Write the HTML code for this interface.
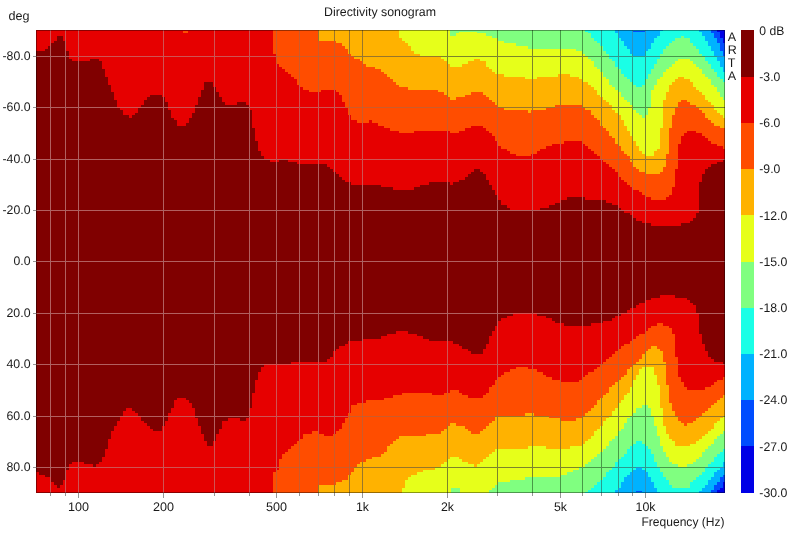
<!DOCTYPE html>
<html><head><meta charset="utf-8"><title>Directivity sonogram</title>
<style>html,body{margin:0;padding:0;background:#fff}svg{display:block}</style></head>
<body><svg width="800" height="539" viewBox="0 0 800 539" shape-rendering="crispEdges" text-rendering="geometricPrecision">
<rect width="800" height="539" fill="#fff"/>
<rect x="36.0" y="30.0" width="689.0" height="463.0" fill="#800000"/>
<path d="M36.0 30.0V51.1H39.0V51.1H42.0V51.1H45.0V48.5H48.0V46.0H51.0V43.4H54.0V40.8H57.0V35.7H60.0V35.7H63.0V40.8H66.0V51.1H69.0V58.8H72.0V61.4H75.0V61.4H78.0V61.4H81.0V61.4H84.0V61.4H87.0V61.4H90.0V58.8H93.0V58.8H96.0V58.8H99.0V61.4H102.0V69.1H105.0V76.8H108.0V84.5H111.0V92.2H114.0V99.9H117.0V107.6H120.0V110.1H123.0V115.3H126.0V115.3H129.0V117.8H132.0V115.3H135.0V112.7H138.0V107.6H141.0V105.0H144.0V99.9H147.0V97.3H150.0V94.7H153.0V94.7H156.0V94.7H159.0V94.7H162.0V97.3H165.0V102.4H168.0V110.1H171.0V117.8H174.0V120.4H177.0V125.5H180.0V125.5H183.0V125.5H186.0V123.0H189.0V117.8H192.0V112.7H195.0V105.0H198.0V97.3H201.0V89.6H204.0V81.9H207.0V81.9H210.0V81.9H213.0V87.0H216.0V92.2H219.0V97.3H222.0V102.4H225.0V105.0H228.0V105.0H231.0V105.0H234.0V105.0H237.0V102.4H240.0V102.4H243.0V102.4H246.0V105.0H249.0V110.1H252.0V128.1H255.0V141.0H258.0V151.2H261.0V156.4H264.0V158.9H267.0V158.9H270.0V161.5H273.0V161.5H276.0V161.5H279.0V158.9H282.0V158.9H285.0V158.9H288.0V161.5H291.0V161.5H294.0V161.5H297.0V164.1H300.0V164.1H303.0V164.1H306.0V164.1H309.0V164.1H312.0V164.1H315.0V164.1H318.0V164.1H321.0V164.1H324.0V164.1H327.0V166.6H330.0V169.2H333.0V171.8H336.0V174.3H339.0V176.9H342.0V179.5H345.0V182.0H348.0V182.0H351.0V184.6H354.0V184.6H357.0V184.6H360.0V184.6H363.0V184.6H366.0V184.6H369.0V184.6H372.0V184.6H375.0V184.6H378.0V184.6H381.0V187.2H384.0V187.2H387.0V187.2H390.0V187.2H393.0V189.7H396.0V189.7H399.0V189.7H402.0V189.7H405.0V189.7H408.0V189.7H411.0V189.7H414.0V187.2H417.0V187.2H420.0V184.6H423.0V184.6H426.0V184.6H429.0V182.0H432.0V182.0H435.0V182.0H438.0V182.0H441.0V182.0H444.0V182.0H447.0V182.0H450.0V184.6H453.0V182.0H456.0V182.0H459.0V179.5H462.0V179.5H465.0V176.9H468.0V174.3H471.0V171.8H474.0V169.2H477.0V169.2H480.0V171.8H483.0V174.3H486.0V179.5H489.0V184.6H492.0V189.7H495.0V194.9H498.0V200.0H501.0V205.1H504.0V205.1H507.0V207.7H510.0V210.3H513.0V210.3H516.0V210.3H519.0V210.3H522.0V210.3H525.0V210.3H528.0V210.3H531.0V210.3H534.0V210.3H537.0V210.3H540.0V207.7H543.0V207.7H546.0V207.7H549.0V205.1H552.0V205.1H555.0V202.6H558.0V202.6H561.0V200.0H564.0V200.0H567.0V197.4H570.0V197.4H573.0V197.4H576.0V197.4H579.0V197.4H582.0V197.4H585.0V200.0H588.0V200.0H591.0V200.0H594.0V200.0H597.0V200.0H600.0V200.0H603.0V200.0H606.0V202.6H609.0V202.6H612.0V205.1H615.0V205.1H618.0V207.7H621.0V210.3H624.0V212.8H627.0V212.8H630.0V215.4H633.0V218.0H636.0V220.5H639.0V220.5H642.0V223.1H645.0V223.1H648.0V223.1H651.0V225.7H654.0V225.7H657.0V225.7H660.0V225.7H663.0V225.7H666.0V225.7H669.0V225.7H672.0V225.7H675.0V225.7H678.0V225.7H681.0V223.1H684.0V223.1H687.0V223.1H690.0V220.5H693.0V218.0H696.0V212.8H699.0V182.0H702.0V174.3H705.0V169.2H708.0V166.6H711.0V164.1H714.0V164.1H717.0V161.5H720.0V161.5H723.0V158.9H725.0V30.0Z" fill="#e60000"/>
<path d="M273.0 30.0V53.7H276.0V63.9H279.0V66.5H282.0V69.1H285.0V71.6H288.0V74.2H291.0V76.8H294.0V79.3H297.0V84.5H300.0V87.0H303.0V89.6H306.0V89.6H309.0V92.2H312.0V92.2H315.0V92.2H318.0V92.2H321.0V89.6H324.0V89.6H327.0V89.6H330.0V89.6H333.0V89.6H336.0V92.2H339.0V94.7H342.0V102.4H345.0V107.6H348.0V115.3H351.0V120.4H354.0V120.4H357.0V123.0H360.0V123.0H363.0V123.0H366.0V123.0H369.0V120.4H372.0V123.0H375.0V123.0H378.0V125.5H381.0V125.5H384.0V128.1H387.0V128.1H390.0V130.7H393.0V130.7H396.0V130.7H399.0V133.2H402.0V133.2H405.0V133.2H408.0V133.2H411.0V133.2H414.0V130.7H417.0V130.7H420.0V130.7H423.0V130.7H426.0V130.7H429.0V130.7H432.0V130.7H435.0V130.7H438.0V130.7H441.0V130.7H444.0V130.7H447.0V130.7H450.0V133.2H453.0V133.2H456.0V133.2H459.0V130.7H462.0V130.7H465.0V128.1H468.0V128.1H471.0V125.5H474.0V125.5H477.0V125.5H480.0V125.5H483.0V128.1H486.0V130.7H489.0V133.2H492.0V135.8H495.0V141.0H498.0V146.1H501.0V148.7H504.0V148.7H507.0V151.2H510.0V153.8H513.0V153.8H516.0V156.4H519.0V156.4H522.0V156.4H525.0V156.4H528.0V156.4H531.0V153.8H534.0V153.8H537.0V151.2H540.0V148.7H543.0V148.7H546.0V146.1H549.0V146.1H552.0V143.5H555.0V143.5H558.0V143.5H561.0V143.5H564.0V141.0H567.0V141.0H570.0V141.0H573.0V141.0H576.0V141.0H579.0V141.0H582.0V143.5H585.0V146.1H588.0V148.7H591.0V151.2H594.0V153.8H597.0V156.4H600.0V158.9H603.0V161.5H606.0V164.1H609.0V166.6H612.0V169.2H615.0V171.8H618.0V176.9H621.0V179.5H624.0V182.0H627.0V184.6H630.0V187.2H633.0V189.7H636.0V189.7H639.0V192.3H642.0V194.9H645.0V197.4H648.0V197.4H651.0V200.0H654.0V200.0H657.0V200.0H660.0V200.0H663.0V200.0H666.0V197.4H669.0V194.9H672.0V187.2H675.0V169.2H678.0V143.5H681.0V135.8H684.0V133.2H687.0V130.7H690.0V130.7H693.0V130.7H696.0V133.2H699.0V133.2H702.0V135.8H705.0V138.4H708.0V141.0H711.0V143.5H714.0V143.5H717.0V146.1H720.0V146.1H723.0V148.7H725.0V30.0Z" fill="#ff4d00"/>
<path d="M318.0 30.0V40.8H321.0V40.8H324.0V40.8H327.0V40.8H330.0V40.8H333.0V40.8H336.0V43.4H339.0V43.4H342.0V46.0H345.0V48.5H348.0V53.7H351.0V56.2H354.0V58.8H357.0V58.8H360.0V61.4H363.0V63.9H366.0V66.5H369.0V66.5H372.0V66.5H375.0V69.1H378.0V69.1H381.0V71.6H384.0V74.2H387.0V76.8H390.0V79.3H393.0V81.9H396.0V84.5H399.0V87.0H402.0V87.0H405.0V87.0H408.0V89.6H411.0V89.6H414.0V89.6H417.0V89.6H420.0V89.6H423.0V89.6H426.0V89.6H429.0V89.6H432.0V89.6H435.0V89.6H438.0V92.2H441.0V92.2H444.0V94.7H447.0V97.3H450.0V99.9H453.0V99.9H456.0V97.3H459.0V97.3H462.0V97.3H465.0V94.7H468.0V94.7H471.0V92.2H474.0V92.2H477.0V92.2H480.0V92.2H483.0V94.7H486.0V97.3H489.0V99.9H492.0V102.4H495.0V105.0H498.0V107.6H501.0V107.6H504.0V110.1H507.0V110.1H510.0V110.1H513.0V110.1H516.0V110.1H519.0V110.1H522.0V110.1H525.0V110.1H528.0V112.7H531.0V110.1H534.0V110.1H537.0V110.1H540.0V110.1H543.0V110.1H546.0V107.6H549.0V107.6H552.0V107.6H555.0V105.0H558.0V105.0H561.0V105.0H564.0V105.0H567.0V105.0H570.0V105.0H573.0V105.0H576.0V105.0H579.0V105.0H582.0V107.6H585.0V110.1H588.0V110.1H591.0V115.3H594.0V117.8H597.0V120.4H600.0V125.5H603.0V128.1H606.0V130.7H609.0V135.8H612.0V138.4H615.0V143.5H618.0V146.1H621.0V151.2H624.0V153.8H627.0V156.4H630.0V161.5H633.0V166.6H636.0V169.2H639.0V171.8H642.0V171.8H645.0V174.3H648.0V174.3H651.0V174.3H654.0V174.3H657.0V174.3H660.0V171.8H663.0V166.6H666.0V153.8H669.0V128.1H672.0V115.3H675.0V107.6H678.0V102.4H681.0V99.9H684.0V99.9H687.0V102.4H690.0V105.0H693.0V105.0H696.0V107.6H699.0V110.1H702.0V112.7H705.0V117.8H708.0V120.4H711.0V123.0H714.0V125.5H717.0V125.5H720.0V128.1H723.0V128.1H725.0V30.0Z" fill="#ffb200"/>
<path d="M399.0 30.0V38.3H402.0V40.8H405.0V43.4H408.0V46.0H411.0V51.1H414.0V53.7H417.0V53.7H420.0V56.2H423.0V56.2H426.0V56.2H429.0V56.2H432.0V56.2H435.0V56.2H438.0V56.2H441.0V58.8H444.0V61.4H447.0V63.9H450.0V66.5H453.0V66.5H456.0V66.5H459.0V66.5H462.0V63.9H465.0V63.9H468.0V61.4H471.0V61.4H474.0V58.8H477.0V58.8H480.0V61.4H483.0V61.4H486.0V66.5H489.0V69.1H492.0V71.6H495.0V74.2H498.0V74.2H501.0V74.2H504.0V76.8H507.0V76.8H510.0V76.8H513.0V76.8H516.0V76.8H519.0V76.8H522.0V76.8H525.0V79.3H528.0V79.3H531.0V79.3H534.0V79.3H537.0V76.8H540.0V76.8H543.0V76.8H546.0V76.8H549.0V76.8H552.0V76.8H555.0V76.8H558.0V74.2H561.0V74.2H564.0V74.2H567.0V74.2H570.0V76.8H573.0V76.8H576.0V76.8H579.0V79.3H582.0V81.9H585.0V81.9H588.0V84.5H591.0V87.0H594.0V89.6H597.0V94.7H600.0V97.3H603.0V99.9H606.0V102.4H609.0V105.0H612.0V110.1H615.0V112.7H618.0V115.3H621.0V120.4H624.0V125.5H627.0V130.7H630.0V135.8H633.0V141.0H636.0V146.1H639.0V151.2H642.0V153.8H645.0V156.4H648.0V156.4H651.0V156.4H654.0V151.2H657.0V148.7H660.0V128.1H663.0V99.9H666.0V92.2H669.0V84.5H672.0V81.9H675.0V79.3H678.0V76.8H681.0V76.8H684.0V79.3H687.0V79.3H690.0V81.9H693.0V87.0H696.0V89.6H699.0V92.2H702.0V94.7H705.0V99.9H708.0V102.4H711.0V105.0H714.0V110.1H717.0V112.7H720.0V115.3H723.0V117.8H725.0V30.0Z" fill="#e6ff1a"/>
<path d="M450.0 30.0V35.7H453.0V35.7H456.0V33.1H459.0V32.0H462.0V32.0H465.0V32.0H468.0V32.0H471.0V32.0H474.0V32.0H477.0V33.0H480.0V33.0H483.0V33.1H486.0V35.7H489.0V35.7H492.0V38.3H495.0V38.3H498.0V40.8H501.0V40.8H504.0V43.4H507.0V43.4H510.0V43.4H513.0V43.4H516.0V46.0H519.0V46.0H522.0V46.0H525.0V46.0H528.0V48.5H531.0V48.5H534.0V48.5H537.0V48.5H540.0V48.5H543.0V48.5H546.0V48.5H549.0V48.5H552.0V48.5H555.0V48.5H558.0V48.5H561.0V48.5H564.0V48.5H567.0V48.5H570.0V48.5H573.0V48.5H576.0V51.1H579.0V51.1H582.0V53.7H585.0V56.2H588.0V58.8H591.0V61.4H594.0V66.5H597.0V69.1H600.0V71.6H603.0V76.8H606.0V79.3H609.0V84.5H612.0V87.0H615.0V89.6H618.0V92.2H621.0V97.3H624.0V99.9H627.0V102.4H630.0V105.0H633.0V110.1H636.0V112.7H639.0V115.3H642.0V117.8H645.0V115.3H648.0V107.6H651.0V89.6H654.0V84.5H657.0V79.3H660.0V76.8H663.0V71.6H666.0V69.1H669.0V66.5H672.0V63.9H675.0V61.4H678.0V58.8H681.0V58.8H684.0V58.8H687.0V58.8H690.0V61.4H693.0V63.9H696.0V66.5H699.0V69.1H702.0V74.2H705.0V76.8H708.0V79.3H711.0V84.5H714.0V87.0H717.0V92.2H720.0V97.3H723.0V99.9H725.0V30.0Z" fill="#80ff80"/>
<path d="M585.0 30.0V32.0H588.0V33.1H591.0V38.3H594.0V40.8H597.0V43.4H600.0V46.0H603.0V51.1H606.0V53.7H609.0V58.8H612.0V61.4H615.0V66.5H618.0V69.1H621.0V74.2H624.0V76.8H627.0V79.3H630.0V81.9H633.0V84.5H636.0V87.0H639.0V87.0H642.0V84.5H645.0V79.3H648.0V74.2H651.0V69.1H654.0V63.9H657.0V58.8H660.0V53.7H663.0V48.5H666.0V46.0H669.0V43.4H672.0V40.8H675.0V38.3H678.0V38.3H681.0V35.7H684.0V38.3H687.0V38.3H690.0V43.4H693.0V46.0H696.0V48.5H699.0V53.7H702.0V56.2H705.0V61.4H708.0V63.9H711.0V69.1H714.0V71.6H717.0V76.8H720.0V79.3H723.0V81.9H725.0V30.0Z" fill="#1affe6"/>
<path d="M615.0 30.0V33.1H618.0V38.3H621.0V40.8H624.0V46.0H627.0V48.5H630.0V53.7H633.0V56.2H636.0V56.2H639.0V56.2H642.0V56.2H645.0V51.1H648.0V48.5H651.0V43.4H654.0V38.3H657.0V35.7H660.0V31.0H663.0V30.0ZM699.0 30.0V32.0H702.0V35.7H705.0V40.8H708.0V46.0H711.0V51.1H714.0V56.2H717.0V61.4H720.0V66.5H723.0V71.6H725.0V30.0Z" fill="#00b2ff"/>
<path d="M711.0 30.0V33.1H714.0V38.3H717.0V43.4H720.0V51.1H723.0V56.2H725.0V30.0Z" fill="#004dff"/>
<path d="M717.0 30.0V32.0H720.0V38.3H723.0V43.4H725.0V30.0Z" fill="#0000e6"/>
<path d="M36.0 493.0V472.1H39.0V474.7H42.0V474.7H45.0V477.2H48.0V477.2H51.0V482.4H54.0V484.9H57.0V487.5H60.0V484.9H63.0V479.8H66.0V469.5H69.0V464.4H72.0V461.8H75.0V461.8H78.0V461.8H81.0V461.8H84.0V464.4H87.0V464.4H90.0V464.4H93.0V467.0H96.0V464.4H99.0V461.8H102.0V456.7H105.0V449.0H108.0V438.7H111.0V431.0H114.0V425.9H117.0V420.8H120.0V415.6H123.0V410.5H126.0V407.9H129.0V407.9H132.0V410.5H135.0V413.1H138.0V415.6H141.0V420.8H144.0V423.3H147.0V425.9H150.0V428.5H153.0V431.0H156.0V431.0H159.0V431.0H162.0V425.9H165.0V420.8H168.0V413.1H171.0V407.9H174.0V400.2H177.0V397.7H180.0V397.7H183.0V397.7H186.0V400.2H189.0V402.8H192.0V407.9H195.0V418.2H198.0V425.9H201.0V433.6H204.0V441.3H207.0V446.4H210.0V446.4H213.0V441.3H216.0V433.6H219.0V428.5H222.0V420.8H225.0V420.8H228.0V418.2H231.0V418.2H234.0V418.2H237.0V418.2H240.0V420.8H243.0V420.8H246.0V418.2H249.0V407.9H252.0V392.5H255.0V379.7H258.0V372.0H261.0V366.8H264.0V364.3H267.0V364.3H270.0V364.3H273.0V364.3H276.0V364.3H279.0V364.3H282.0V364.3H285.0V364.3H288.0V364.3H291.0V361.7H294.0V361.7H297.0V361.7H300.0V361.7H303.0V361.7H306.0V361.7H309.0V361.7H312.0V361.7H315.0V361.7H318.0V361.7H321.0V361.7H324.0V361.7H327.0V359.1H330.0V356.6H333.0V351.4H336.0V348.9H339.0V346.3H342.0V346.3H345.0V343.7H348.0V341.2H351.0V341.2H354.0V341.2H357.0V341.2H360.0V341.2H363.0V338.6H366.0V338.6H369.0V338.6H372.0V338.6H375.0V338.6H378.0V338.6H381.0V336.0H384.0V336.0H387.0V333.5H390.0V333.5H393.0V333.5H396.0V330.9H399.0V330.9H402.0V330.9H405.0V330.9H408.0V333.5H411.0V333.5H414.0V333.5H417.0V336.0H420.0V336.0H423.0V338.6H426.0V338.6H429.0V341.2H432.0V341.2H435.0V341.2H438.0V341.2H441.0V341.2H444.0V341.2H447.0V341.2H450.0V341.2H453.0V343.7H456.0V343.7H459.0V346.3H462.0V348.9H465.0V348.9H468.0V351.4H471.0V354.0H474.0V354.0H477.0V354.0H480.0V354.0H483.0V348.9H486.0V343.7H489.0V336.0H492.0V330.9H495.0V325.8H498.0V320.6H501.0V318.1H504.0V318.1H507.0V315.5H510.0V315.5H513.0V312.9H516.0V312.9H519.0V312.9H522.0V312.9H525.0V312.9H528.0V312.9H531.0V312.9H534.0V312.9H537.0V315.5H540.0V315.5H543.0V315.5H546.0V318.1H549.0V318.1H552.0V320.6H555.0V323.2H558.0V323.2H561.0V323.2H564.0V325.8H567.0V325.8H570.0V325.8H573.0V325.8H576.0V325.8H579.0V325.8H582.0V325.8H585.0V325.8H588.0V325.8H591.0V323.2H594.0V323.2H597.0V323.2H600.0V323.2H603.0V320.6H606.0V320.6H609.0V320.6H612.0V318.1H615.0V315.5H618.0V315.5H621.0V312.9H624.0V312.9H627.0V310.4H630.0V307.8H633.0V307.8H636.0V305.2H639.0V302.7H642.0V302.7H645.0V300.1H648.0V300.1H651.0V297.5H654.0V297.5H657.0V297.5H660.0V295.0H663.0V295.0H666.0V295.0H669.0V295.0H672.0V295.0H675.0V297.5H678.0V297.5H681.0V297.5H684.0V297.5H687.0V300.1H690.0V302.7H693.0V305.2H696.0V312.9H699.0V333.5H702.0V343.7H705.0V351.4H708.0V356.6H711.0V359.1H714.0V361.7H717.0V361.7H720.0V361.7H723.0V364.3H725.0V493.0Z" fill="#e60000"/>
<path d="M273.0 493.0V472.1H276.0V469.5H279.0V459.3H282.0V454.1H285.0V451.6H288.0V449.0H291.0V446.4H294.0V443.9H297.0V441.3H300.0V438.7H303.0V433.6H306.0V433.6H309.0V433.6H312.0V431.0H315.0V431.0H318.0V433.6H321.0V433.6H324.0V436.2H327.0V436.2H330.0V436.2H333.0V433.6H336.0V431.0H339.0V428.5H342.0V423.3H345.0V418.2H348.0V413.1H351.0V405.4H354.0V405.4H357.0V402.8H360.0V402.8H363.0V402.8H366.0V400.2H369.0V400.2H372.0V400.2H375.0V400.2H378.0V400.2H381.0V400.2H384.0V397.7H387.0V397.7H390.0V397.7H393.0V395.1H396.0V395.1H399.0V395.1H402.0V392.5H405.0V392.5H408.0V392.5H411.0V392.5H414.0V392.5H417.0V392.5H420.0V392.5H423.0V392.5H426.0V392.5H429.0V392.5H432.0V395.1H435.0V395.1H438.0V395.1H441.0V395.1H444.0V392.5H447.0V392.5H450.0V390.0H453.0V390.0H456.0V390.0H459.0V392.5H462.0V395.1H465.0V395.1H468.0V397.7H471.0V397.7H474.0V397.7H477.0V397.7H480.0V397.7H483.0V395.1H486.0V392.5H489.0V387.4H492.0V384.8H495.0V379.7H498.0V377.1H501.0V374.5H504.0V372.0H507.0V372.0H510.0V369.4H513.0V369.4H516.0V366.8H519.0V366.8H522.0V366.8H525.0V366.8H528.0V369.4H531.0V369.4H534.0V369.4H537.0V372.0H540.0V372.0H543.0V374.5H546.0V377.1H549.0V377.1H552.0V379.7H555.0V379.7H558.0V379.7H561.0V382.2H564.0V382.2H567.0V382.2H570.0V382.2H573.0V382.2H576.0V382.2H579.0V379.7H582.0V377.1H585.0V374.5H588.0V372.0H591.0V372.0H594.0V369.4H597.0V366.8H600.0V364.3H603.0V361.7H606.0V359.1H609.0V356.6H612.0V354.0H615.0V351.4H618.0V348.9H621.0V346.3H624.0V343.7H627.0V343.7H630.0V341.2H633.0V338.6H636.0V336.0H639.0V333.5H642.0V333.5H645.0V330.9H648.0V328.3H651.0V325.8H654.0V325.8H657.0V323.2H660.0V323.2H663.0V325.8H666.0V325.8H669.0V328.3H672.0V333.5H675.0V356.6H678.0V377.1H681.0V382.2H684.0V387.4H687.0V390.0H690.0V390.0H693.0V390.0H696.0V390.0H699.0V390.0H702.0V390.0H705.0V387.4H708.0V387.4H711.0V384.8H714.0V382.2H717.0V379.7H720.0V379.7H723.0V377.1H725.0V493.0Z" fill="#ff4d00"/>
<path d="M318.0 493.0V484.9H321.0V484.9H324.0V484.9H327.0V484.9H330.0V484.9H333.0V484.9H336.0V482.4H339.0V482.4H342.0V479.8H345.0V479.8H348.0V474.7H351.0V472.1H354.0V467.0H357.0V464.4H360.0V461.8H363.0V461.8H366.0V459.3H369.0V459.3H372.0V456.7H375.0V456.7H378.0V456.7H381.0V454.1H384.0V451.6H387.0V446.4H390.0V443.9H393.0V441.3H396.0V438.7H399.0V436.2H402.0V436.2H405.0V436.2H408.0V436.2H411.0V436.2H414.0V436.2H417.0V436.2H420.0V436.2H423.0V436.2H426.0V433.6H429.0V433.6H432.0V433.6H435.0V433.6H438.0V433.6H441.0V431.0H444.0V428.5H447.0V425.9H450.0V423.3H453.0V423.3H456.0V425.9H459.0V425.9H462.0V425.9H465.0V428.5H468.0V431.0H471.0V433.6H474.0V433.6H477.0V433.6H480.0V431.0H483.0V428.5H486.0V425.9H489.0V423.3H492.0V420.8H495.0V415.6H498.0V415.6H501.0V415.6H504.0V415.6H507.0V415.6H510.0V415.6H513.0V415.6H516.0V415.6H519.0V415.6H522.0V415.6H525.0V413.1H528.0V413.1H531.0V413.1H534.0V415.6H537.0V415.6H540.0V415.6H543.0V415.6H546.0V415.6H549.0V418.2H552.0V418.2H555.0V418.2H558.0V418.2H561.0V420.8H564.0V420.8H567.0V420.8H570.0V420.8H573.0V420.8H576.0V418.2H579.0V418.2H582.0V415.6H585.0V413.1H588.0V410.5H591.0V407.9H594.0V405.4H597.0V400.2H600.0V397.7H603.0V395.1H606.0V392.5H609.0V387.4H612.0V384.8H615.0V382.2H618.0V379.7H621.0V377.1H624.0V374.5H627.0V369.4H630.0V366.8H633.0V364.3H636.0V361.7H639.0V359.1H642.0V354.0H645.0V351.4H648.0V348.9H651.0V346.3H654.0V346.3H657.0V348.9H660.0V351.4H663.0V361.7H666.0V384.8H669.0V402.8H672.0V410.5H675.0V415.6H678.0V420.8H681.0V423.3H684.0V425.9H687.0V423.3H690.0V423.3H693.0V420.8H696.0V418.2H699.0V415.6H702.0V413.1H705.0V410.5H708.0V407.9H711.0V405.4H714.0V402.8H717.0V400.2H720.0V397.7H723.0V395.1H725.0V493.0Z" fill="#ffb200"/>
<path d="M402.0 493.0V487.5H405.0V479.8H408.0V477.2H411.0V474.7H414.0V474.7H417.0V472.1H420.0V472.1H423.0V469.5H426.0V469.5H429.0V469.5H432.0V469.5H435.0V467.0H438.0V467.0H441.0V464.4H444.0V461.8H447.0V459.3H450.0V456.7H453.0V456.7H456.0V456.7H459.0V459.3H462.0V461.8H465.0V461.8H468.0V464.4H471.0V464.4H474.0V467.0H477.0V464.4H480.0V461.8H483.0V459.3H486.0V456.7H489.0V454.1H492.0V451.6H495.0V449.0H498.0V449.0H501.0V449.0H504.0V449.0H507.0V449.0H510.0V449.0H513.0V449.0H516.0V449.0H519.0V449.0H522.0V449.0H525.0V449.0H528.0V446.4H531.0V446.4H534.0V446.4H537.0V446.4H540.0V446.4H543.0V446.4H546.0V449.0H549.0V449.0H552.0V449.0H555.0V449.0H558.0V449.0H561.0V449.0H564.0V449.0H567.0V449.0H570.0V446.4H573.0V446.4H576.0V446.4H579.0V446.4H582.0V443.9H585.0V441.3H588.0V438.7H591.0V436.2H594.0V431.0H597.0V428.5H600.0V425.9H603.0V420.8H606.0V418.2H609.0V415.6H612.0V410.5H615.0V407.9H618.0V402.8H621.0V400.2H624.0V395.1H627.0V392.5H630.0V387.4H633.0V379.7H636.0V374.5H639.0V369.4H642.0V366.8H645.0V366.8H648.0V366.8H651.0V366.8H654.0V374.5H657.0V384.8H660.0V407.9H663.0V425.9H666.0V433.6H669.0V438.7H672.0V441.3H675.0V446.4H678.0V446.4H681.0V446.4H684.0V446.4H687.0V446.4H690.0V443.9H693.0V443.9H696.0V441.3H699.0V438.7H702.0V436.2H705.0V433.6H708.0V431.0H711.0V428.5H714.0V423.3H717.0V420.8H720.0V418.2H723.0V415.6H725.0V493.0Z" fill="#e6ff1a"/>
<path d="M489.0 493.0V490.0H492.0V487.5H495.0V484.9H498.0V482.4H501.0V482.4H504.0V482.4H507.0V482.4H510.0V479.8H513.0V479.8H516.0V479.8H519.0V479.8H522.0V479.8H525.0V477.2H528.0V477.2H531.0V477.2H534.0V477.2H537.0V477.2H540.0V477.2H543.0V477.2H546.0V477.2H549.0V477.2H552.0V477.2H555.0V477.2H558.0V477.2H561.0V474.7H564.0V474.7H567.0V472.1H570.0V472.1H573.0V469.5H576.0V469.5H579.0V467.0H582.0V467.0H585.0V464.4H588.0V461.8H591.0V459.3H594.0V456.7H597.0V454.1H600.0V451.6H603.0V449.0H606.0V446.4H609.0V441.3H612.0V438.7H615.0V436.2H618.0V431.0H621.0V428.5H624.0V423.3H627.0V418.2H630.0V415.6H633.0V413.1H636.0V407.9H639.0V407.9H642.0V405.4H645.0V405.4H648.0V407.9H651.0V415.6H654.0V425.9H657.0V436.2H660.0V446.4H663.0V451.6H666.0V456.7H669.0V461.8H672.0V464.4H675.0V464.4H678.0V467.0H681.0V467.0H684.0V467.0H687.0V464.4H690.0V464.4H693.0V461.8H696.0V459.3H699.0V456.7H702.0V451.6H705.0V449.0H708.0V446.4H711.0V443.9H714.0V438.7H717.0V436.2H720.0V433.6H723.0V431.0H725.0V493.0Z" fill="#80ff80"/>
<path d="M585.0 493.0V492.0H588.0V490.1H591.0V487.5H594.0V484.9H597.0V482.4H600.0V479.8H603.0V477.2H606.0V472.1H609.0V469.5H612.0V467.0H615.0V461.8H618.0V459.3H621.0V456.7H624.0V454.1H627.0V449.0H630.0V446.4H633.0V443.9H636.0V441.3H639.0V441.3H642.0V443.9H645.0V446.4H648.0V449.0H651.0V454.1H654.0V461.8H657.0V467.0H660.0V472.1H663.0V477.2H666.0V479.8H669.0V484.9H672.0V487.5H675.0V487.5H678.0V487.5H681.0V487.5H684.0V487.5H687.0V487.5H690.0V482.4H693.0V479.8H696.0V477.2H699.0V474.7H702.0V472.1H705.0V467.0H708.0V464.4H711.0V461.8H714.0V456.7H717.0V454.1H720.0V451.6H723.0V449.0H725.0V493.0Z" fill="#1affe6"/>
<path d="M615.0 493.0V490.1H618.0V487.5H621.0V482.4H624.0V477.2H627.0V474.7H630.0V472.1H633.0V469.5H636.0V467.0H639.0V467.0H642.0V469.5H645.0V472.1H648.0V477.2H651.0V482.4H654.0V487.5H657.0V492.0H660.0V493.0ZM699.0 493.0V491.0H702.0V487.5H705.0V484.9H708.0V479.8H711.0V477.2H714.0V472.1H717.0V469.5H720.0V467.0H723.0V461.8H725.0V493.0Z" fill="#00b2ff"/>
<path d="M711.0 493.0V490.0H714.0V484.9H717.0V482.4H720.0V477.2H723.0V474.7H725.0V493.0Z" fill="#004dff"/>
<path d="M717.0 493.0V490.0H720.0V487.5H723.0V482.4H725.0V493.0Z" fill="#0000e6"/>
<rect x="633" y="31" width="12" height="1" fill="#004dff"/>
<rect x="636" y="491" width="6" height="1" fill="#004dff"/>
<rect x="183" y="30.5" width="5" height="2" fill="#ff4d00"/>
<rect x="451" y="487.5" width="9" height="5" fill="#80ff80"/>
<g fill="#787878" style="mix-blend-mode:luminosity"><rect x="36.0" y="56" width="689.0" height="1"/><rect x="36.0" y="107" width="689.0" height="1"/><rect x="36.0" y="159" width="689.0" height="1"/><rect x="36.0" y="210" width="689.0" height="1"/><rect x="36.0" y="261" width="689.0" height="1"/><rect x="36.0" y="313" width="689.0" height="1"/><rect x="36.0" y="364" width="689.0" height="1"/><rect x="36.0" y="416" width="689.0" height="1"/><rect x="36.0" y="467" width="689.0" height="1"/><rect x="50" y="30.0" width="1" height="463.0"/><rect x="65" y="30.0" width="1" height="463.0"/><rect x="78" y="30.0" width="1" height="463.0"/><rect x="163" y="30.0" width="1" height="463.0"/><rect x="214" y="30.0" width="1" height="463.0"/><rect x="249" y="30.0" width="1" height="463.0"/><rect x="276" y="30.0" width="1" height="463.0"/><rect x="299" y="30.0" width="1" height="463.0"/><rect x="318" y="30.0" width="1" height="463.0"/><rect x="334" y="30.0" width="1" height="463.0"/><rect x="349" y="30.0" width="1" height="463.0"/><rect x="362" y="30.0" width="1" height="463.0"/><rect x="447" y="30.0" width="1" height="463.0"/><rect x="497" y="30.0" width="1" height="463.0"/><rect x="532" y="30.0" width="1" height="463.0"/><rect x="560" y="30.0" width="1" height="463.0"/><rect x="582" y="30.0" width="1" height="463.0"/><rect x="601" y="30.0" width="1" height="463.0"/><rect x="618" y="30.0" width="1" height="463.0"/><rect x="632" y="30.0" width="1" height="463.0"/><rect x="645" y="30.0" width="1" height="463.0"/></g>
<g fill="#787878" fill-opacity="0.35"><rect x="36.0" y="56" width="689.0" height="1"/><rect x="36.0" y="107" width="689.0" height="1"/><rect x="36.0" y="159" width="689.0" height="1"/><rect x="36.0" y="210" width="689.0" height="1"/><rect x="36.0" y="261" width="689.0" height="1"/><rect x="36.0" y="313" width="689.0" height="1"/><rect x="36.0" y="364" width="689.0" height="1"/><rect x="36.0" y="416" width="689.0" height="1"/><rect x="36.0" y="467" width="689.0" height="1"/><rect x="50" y="30.0" width="1" height="463.0"/><rect x="65" y="30.0" width="1" height="463.0"/><rect x="78" y="30.0" width="1" height="463.0"/><rect x="163" y="30.0" width="1" height="463.0"/><rect x="214" y="30.0" width="1" height="463.0"/><rect x="249" y="30.0" width="1" height="463.0"/><rect x="276" y="30.0" width="1" height="463.0"/><rect x="299" y="30.0" width="1" height="463.0"/><rect x="318" y="30.0" width="1" height="463.0"/><rect x="334" y="30.0" width="1" height="463.0"/><rect x="349" y="30.0" width="1" height="463.0"/><rect x="362" y="30.0" width="1" height="463.0"/><rect x="447" y="30.0" width="1" height="463.0"/><rect x="497" y="30.0" width="1" height="463.0"/><rect x="532" y="30.0" width="1" height="463.0"/><rect x="560" y="30.0" width="1" height="463.0"/><rect x="582" y="30.0" width="1" height="463.0"/><rect x="601" y="30.0" width="1" height="463.0"/><rect x="618" y="30.0" width="1" height="463.0"/><rect x="632" y="30.0" width="1" height="463.0"/><rect x="645" y="30.0" width="1" height="463.0"/></g>
<g fill="#969696"><rect x="50" y="493.0" width="1" height="2.5"/><rect x="65" y="493.0" width="1" height="2.5"/><rect x="78" y="493.0" width="1" height="5.0"/><rect x="163" y="493.0" width="1" height="5.0"/><rect x="214" y="493.0" width="1" height="2.5"/><rect x="249" y="493.0" width="1" height="2.5"/><rect x="276" y="493.0" width="1" height="5.0"/><rect x="299" y="493.0" width="1" height="2.5"/><rect x="318" y="493.0" width="1" height="2.5"/><rect x="334" y="493.0" width="1" height="2.5"/><rect x="349" y="493.0" width="1" height="2.5"/><rect x="362" y="493.0" width="1" height="5.0"/><rect x="447" y="493.0" width="1" height="5.0"/><rect x="497" y="493.0" width="1" height="2.5"/><rect x="532" y="493.0" width="1" height="2.5"/><rect x="560" y="493.0" width="1" height="5.0"/><rect x="582" y="493.0" width="1" height="2.5"/><rect x="601" y="493.0" width="1" height="2.5"/><rect x="618" y="493.0" width="1" height="2.5"/><rect x="632" y="493.0" width="1" height="2.5"/><rect x="645" y="493.0" width="1" height="5.0"/><rect x="33" y="56" width="3" height="1"/><rect x="33" y="107" width="3" height="1"/><rect x="33" y="159" width="3" height="1"/><rect x="33" y="210" width="3" height="1"/><rect x="33" y="261" width="3" height="1"/><rect x="33" y="313" width="3" height="1"/><rect x="33" y="364" width="3" height="1"/><rect x="33" y="416" width="3" height="1"/><rect x="33" y="467" width="3" height="1"/></g>
<path d="M36 30H725V493H36ZM37 31V492H724V31Z" fill="#000" fill-opacity="0.4" fill-rule="evenodd"/>
<rect x="741" y="30" width="13" height="47" fill="#800000"/>
<rect x="741" y="77" width="13" height="46" fill="#e60000"/>
<rect x="741" y="123" width="13" height="46" fill="#ff4d00"/>
<rect x="741" y="169" width="13" height="46" fill="#ffb200"/>
<rect x="741" y="215" width="13" height="47" fill="#e6ff1a"/>
<rect x="741" y="262" width="13" height="46" fill="#80ff80"/>
<rect x="741" y="308" width="13" height="46" fill="#1affe6"/>
<rect x="741" y="354" width="13" height="46" fill="#00b2ff"/>
<rect x="741" y="400" width="13" height="46" fill="#004dff"/>
<rect x="741" y="446" width="13" height="47" fill="#0000e6"/>
<g font-family="Liberation Sans, Arial, sans-serif" font-size="12.5" fill="#1a1a1a"><text x="380" y="15.6" text-anchor="middle" textLength="112" lengthAdjust="spacingAndGlyphs">Directivity sonogram</text><text x="8.5" y="20.3" textLength="21" lengthAdjust="spacingAndGlyphs">deg</text><text x="30.5" y="60.2" text-anchor="end" textLength="28" lengthAdjust="spacingAndGlyphs">-80.0</text><text x="30.5" y="111.2" text-anchor="end" textLength="28" lengthAdjust="spacingAndGlyphs">-60.0</text><text x="30.5" y="163.2" text-anchor="end" textLength="28" lengthAdjust="spacingAndGlyphs">-40.0</text><text x="30.5" y="214.2" text-anchor="end" textLength="28" lengthAdjust="spacingAndGlyphs">-20.0</text><text x="30.5" y="265.2" text-anchor="end" textLength="17" lengthAdjust="spacingAndGlyphs">0.0</text><text x="30.5" y="317.2" text-anchor="end" textLength="24" lengthAdjust="spacingAndGlyphs">20.0</text><text x="30.5" y="368.2" text-anchor="end" textLength="24" lengthAdjust="spacingAndGlyphs">40.0</text><text x="30.5" y="420.2" text-anchor="end" textLength="24" lengthAdjust="spacingAndGlyphs">60.0</text><text x="30.5" y="471.2" text-anchor="end" textLength="24" lengthAdjust="spacingAndGlyphs">80.0</text><text x="78.5" y="511.3" text-anchor="middle" textLength="21" lengthAdjust="spacingAndGlyphs">100</text><text x="163.5" y="511.3" text-anchor="middle" textLength="21" lengthAdjust="spacingAndGlyphs">200</text><text x="276.5" y="511.3" text-anchor="middle" textLength="21" lengthAdjust="spacingAndGlyphs">500</text><text x="362.5" y="511.3" text-anchor="middle" textLength="13" lengthAdjust="spacingAndGlyphs">1k</text><text x="447.5" y="511.3" text-anchor="middle" textLength="13" lengthAdjust="spacingAndGlyphs">2k</text><text x="560.5" y="511.3" text-anchor="middle" textLength="13" lengthAdjust="spacingAndGlyphs">5k</text><text x="645.5" y="511.3" text-anchor="middle" textLength="20" lengthAdjust="spacingAndGlyphs">10k</text><text x="724.5" y="526.2" text-anchor="end" textLength="83" lengthAdjust="spacingAndGlyphs">Frequency (Hz)</text><text x="727.7" y="41.4">A</text><text x="727.7" y="54.3">R</text><text x="727.7" y="67.1">T</text><text x="727.7" y="80.0">A</text><text x="759.3" y="34.7" textLength="25" lengthAdjust="spacingAndGlyphs">0 dB</text><text x="759.3" y="80.9" textLength="21" lengthAdjust="spacingAndGlyphs">-3.0</text><text x="759.3" y="127.1" textLength="21" lengthAdjust="spacingAndGlyphs">-6.0</text><text x="759.3" y="173.3" textLength="21" lengthAdjust="spacingAndGlyphs">-9.0</text><text x="759.3" y="219.5" textLength="28" lengthAdjust="spacingAndGlyphs">-12.0</text><text x="759.3" y="265.8" textLength="28" lengthAdjust="spacingAndGlyphs">-15.0</text><text x="759.3" y="312.0" textLength="28" lengthAdjust="spacingAndGlyphs">-18.0</text><text x="759.3" y="358.2" textLength="28" lengthAdjust="spacingAndGlyphs">-21.0</text><text x="759.3" y="404.4" textLength="28" lengthAdjust="spacingAndGlyphs">-24.0</text><text x="759.3" y="450.6" textLength="28" lengthAdjust="spacingAndGlyphs">-27.0</text><text x="759.3" y="496.8" textLength="28" lengthAdjust="spacingAndGlyphs">-30.0</text></g>
</svg></body></html>
